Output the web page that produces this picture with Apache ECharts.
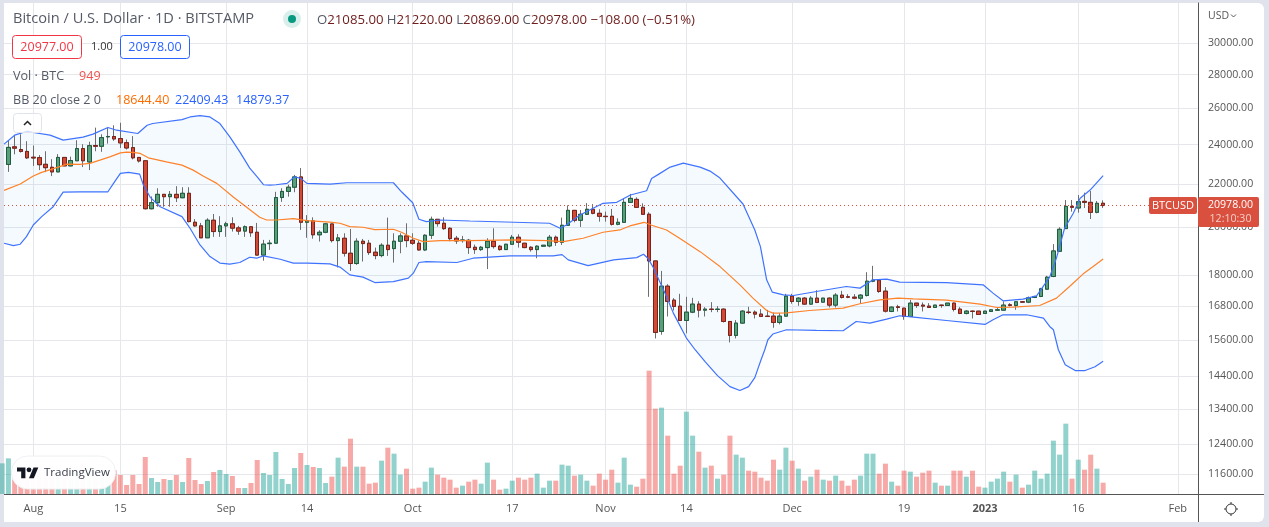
<!DOCTYPE html>
<html><head><meta charset="utf-8">
<style>html,body{margin:0;padding:0;background:#e0e3eb;overflow:hidden}#c{position:absolute;left:4px;top:3px;width:1260px;height:519px;background:#fff;border-radius:0 6px 6px 0}#m{position:absolute;left:0;top:0;width:1269px;height:527px}</style>
<script src="https://cdn.jsdelivr.net/npm/echarts@6/dist/echarts.min.js"></script>
</head><body><div id="c"></div><div id="m"></div>
<script>
// candle values, one per day, first candle is day -5 counted from 1 Aug 2022
const firstDay = -5;
const opens = [21220,22925,23830,23690,23590,23290,23270,22930,22780,22550,23280,22850,23110,23740,23050,23900,23860,24360,24380,24270,24050,23790,23280,23110,20790,21070,21460,21350,21460,21300,21510,20180,20020,19500,20270,19770,20020,20110,19930,19790,19980,19740,18770,19250,19270,21310,21600,21800,22300,20180,20240,19630,19740,20104,19380,19480,18847,18425,19352,19267,18890,18750,19183,19042,19352,19581,19394,19267,18985,19610,20311,20134,19913,19480,19380,19394,19098,19000,19084,19352,19141,19000,19225,19523,19267,19098,19000,19141,19155,19523,19309,20046,20717,20266,20537,20765,20582,20447,20447,20090,20178,21085,21225,20855,20540,18530,15864,17528,16996,16770,16251,16552,16847,16625,16662,16650,16662,16216,15725,16157,16552,16552,16480,16407,16407,16180,16407,17146,16946,17071,16847,17071,16921,17071,16810,17184,17121,17108,17071,17171,17722,17760,17335,16577,16748,16699,16396,16884,16810,16773,16724,16810,16798,16884,16662,16504,16589,16589,16504,16577,16625,16625,16822,16798,16934,16921,17096,17134,17412,17905,18930,19900,20900,20825,21131,21085,20627,21085];
const highs = [23000,24150,24400,24500,24130,23900,23400,23600,23190,23450,23290,23320,24180,23970,24100,24860,24500,24850,24990,25130,24220,24400,23290,23120,21360,21750,21470,21620,21850,21800,21800,20320,20150,20360,20550,20450,20200,20400,20020,20040,20010,20150,19410,19410,21580,21750,21920,22400,22740,20500,20400,19830,20150,20130,19667,19696,19883,19480,19451,19408,19084,19267,20386,19696,19696,20134,19696,19380,19653,20432,20320,20400,19957,19581,19581,19451,19211,19155,19480,19913,19197,19240,19624,19653,19280,19141,19183,19190,19624,19595,20386,20945,20730,20732,21050,21005,20765,20657,20780,20355,21270,21480,21320,21040,20630,18540,18128,17605,17071,17235,17121,17083,16958,16736,16921,16772,16686,16230,16263,16625,16748,16613,16662,16637,16540,16516,17235,17235,17108,17108,17146,17373,17080,17096,17260,17348,17222,17222,17222,18077,18330,17786,17490,16761,16822,16710,17008,16890,16909,16884,16815,16815,16890,16909,16736,16625,16613,16595,16595,16645,16736,16946,16884,16946,16959,17134,17159,17464,17931,19230,19958,21193,21193,21428,21540,21617,21147,21220];
const lows = [21040,22550,23440,23530,23200,22850,22640,22540,22340,22540,22840,22830,23100,22790,22640,23600,23570,24000,24150,23770,23690,23180,23020,20760,20760,20880,20880,20880,21100,21290,20170,19980,19490,19490,19540,19540,19540,19770,19630,19540,19540,18750,18540,18985,19260,21110,21350,21560,19840,19500,19460,19340,19700,19300,18265,18710,18130,18370,18505,18778,18600,18682,18737,18465,18847,19098,19197,18957,18944,19451,19987,19840,19352,19239,19295,18820,18820,18944,18200,19042,18957,18985,19197,19084,19056,18916,18640,19130,19098,19155,19197,20016,20178,19972,20507,20537,20208,20208,20031,20046,20170,21080,20840,20507,17120,15620,15749,16395,16613,16240,15795,16516,16360,16395,16552,16552,16180,15483,15621,16145,16480,16323,16383,16380,15992,16110,16395,16860,16785,16822,16822,16884,16909,16724,16724,17058,17071,17033,16860,17134,17683,17272,16540,16553,16577,16275,16390,16711,16577,16715,16711,16711,16790,16577,16480,16468,16323,16460,16495,16565,16613,16613,16761,16637,16909,16884,17090,17109,17386,17878,18920,19890,20657,20612,20825,20325,20582,20869];
const closes = [22940,23800,23760,23590,23260,23250,22910,22760,22550,23280,22850,23120,23740,23110,23890,23860,24320,24380,24250,24040,23770,23260,23100,20790,21070,21460,21350,21460,21300,21510,20210,20020,19500,20270,19770,20020,20110,19920,19790,19980,19720,18770,19230,19270,21310,21600,21800,22300,20180,20240,19630,19740,20110,19380,19494,18847,18425,19352,19253,18875,18750,19183,19000,19352,19581,19380,19267,18985,19610,20311,20120,19898,19465,19366,19408,19084,19000,19098,19352,19126,19000,19225,19523,19309,19084,19000,19141,19183,19523,19309,20046,20717,20266,20537,20765,20582,20447,20432,20090,20178,21085,21270,20855,20537,18530,15829,17528,16946,16760,16251,16552,16847,16625,16662,16650,16662,16216,15725,16157,16589,16540,16480,16395,16395,16180,16407,17146,16946,17071,16847,17071,16909,17071,16810,17184,17096,17108,17071,17184,17722,17760,17323,16589,16736,16724,16396,16884,16798,16773,16724,16810,16798,16884,16650,16504,16589,16577,16468,16589,16637,16637,16810,16798,16934,16921,17084,17134,17425,17878,18943,19870,20900,20855,21116,21085,20627,21040,20978];
const volumes = [2576,2996,2100,1900,2300,1800,2400,2200,1600,1900,2000,1400,2300,2600,2400,1800,1700,1500,2000,1596,756,1596,840,3108,1344,1008,1260,1176,1596,1008,3024,1176,840,1092,1848,2016,1680,1512,504,504,924,2856,1764,1596,3528,1260,840,2184,3444,2436,2268,2184,924,1456,3052,2296,4648,2296,2296,868,952,2800,3892,3388,1624,2128,448,532,1036,2212,1624,1372,1204,532,700,1036,1204,868,2632,1204,364,448,1120,1372,1204,1372,1708,532,1120,1120,2464,2380,1540,1624,1120,700,1708,1204,2044,952,3052,784,616,1288,10360,7168,7252,4900,1708,2380,6916,4900,3556,2212,2380,1288,1624,4900,3304,3052,1960,1876,1372,1120,2884,2044,3892,2800,2128,1120,1456,2044,1204,1120,1540,1120,700,1204,1540,3388,3388,1708,2548,1036,700,1960,1876,1456,1792,1960,952,700,700,1960,1960,1456,1960,616,532,1036,1288,1876,1036,1624,532,784,1960,1288,1708,4480,3304,5908,1288,2884,2044,3304,2128,949];

// Bollinger readings: day offset and price along each line
const upperDays = [-4.7,-3,-1,0,2.7,4.8,8,9.6,12,13.4,16.8,18.3,19.2,23.9,25.2,26.8,28.4,30,31.6,33.2,34.8,36,37,38,39,40.8,42,43,44,47.7,50.4,57.9,59.2,61,62,63.2,65.4,70.2,83,84.7,85.7,87.9,90,91.6,93.8,96,98.6,99.4,100.5,102.4,104.5,107.2,108.8,110.4,114.1,116,116.9,117.9,118.8,120.6,122.2,125.9,130.7,132.9,135,137.2,139.3,146.8,152.7,154.3,155.9,159.1,161.3,163.4,164.5,165.8,167.2,168.3,169.9,172];
const upperPrices = [23972,24451,24666,24596,24451,24183,24344,24505,24866,24720,24543,24994,25087,25307,25453,25531,25453,25087,24360,23568,22739,22308,21920,21905,21920,21987,22308,22230,21987,21953,22016,22016,21582,21068,20313,20210,20281,20237,20135,19915,20060,20506,20810,21041,21087,21428,21631,22228,22426,22789,22990,22789,22589,22244,21009,19840,19125,17773,17299,17197,17170,17322,17514,17452,17773,17800,17684,17669,17580,17261,16971,17034,17159,17880,18655,19915,20585,21273,21664,22409.43];
const middleDays = [-4.7,-2.1,0,1.35,4,5.4,7.5,9.1,10.7,12.3,14,15,16,17.2,18.5,21.4,23.9,25.7,27.3,29.5,32.2,34.3,36.4,37.5,39.1,41.8,44,47.7,49.3,50.9,53,54.9,57.9,59.2,61.1,62.7,65.4,70.2,77.2,82.5,85.2,88.4,91.6,94.3,95.9,98.2,99.3,101.8,103.9,107.2,110.4,113.6,115.7,117.9,118.9,121.1,124.8,130.2,132.9,136.1,139,141.5,146.8,152.2,154.9,157.5,161.8,164.5,166.6,168.8,170.4,172];
const middlePrices = [21650,21953,22343,22525,22789,22940,22925,22975,23141,23311,23517,23553,23538,23486,23259,23055,22890,22638,22343,21987,21320,20856,20403,20281,20281,20340,20250,20184,20135,19985,19959,19853,19870,19741,19481,19336,19378,19378,19408,19378,19336,19481,19741,19840,20016,20178,20060,19840,19481,18914,18301,17580,17072,16612,16517,16528,16612,16700,16860,17008,17072,17046,16997,16849,16722,16737,16796,17072,17514,18010,18301,18644.40];
const lowerDays = [-4.7,-3.2,-2.1,-1.1,0,1.35,3.2,4.8,7.5,12,12.9,14,15.3,17.1,17.7,18.8,20.4,23.9,25.2,26.8,28.4,30,31.6,33.2,34.8,35.9,37,39.7,41.8,44,47.7,49.3,50.9,53,54.9,57.9,60.3,61.1,62,63.2,68.1,70.7,76.6,83.6,85,86,89.2,93.3,97,98.1,98.8,99.6,101.8,102.9,105,106.4,108,110,112,113.6,115,116,117,117.6,118.1,118.9,121.1,125.9,130.2,132.3,134.5,137.2,139.3,141.5,146.8,153,154.3,155.9,159.7,162.4,163.4,164,164.8,165.9,167.5,169.1,170.7,172];
const lowerPrices = [19268,19167,19226,19550,20060,20430,20884,21570,21582,21582,21987,22474,22525,22441,21905,21320,20884,20430,19915,19196,18710,18443,18403,18467,18682,18642,18737,18600,18443,18443,18410,18280,17970,17880,17668,17707,17840,18037,18467,18505,18467,18642,18737,18737,18790,18572,18340,18572,18667,18807,18642,18301,17133,16516,15633,15236,14840,14390,14046,13924,14046,14326,14905,15236,15575,15772,15921,15897,15886,16214,16156,16300,16420,16372,16250,16110,16275,16456,16456,16336,16038,15921,15236,14742,14552,14552,14675,14879.37];

// axis ticks
const timeTickDays = [0,14,31,44,61,77,92,105,122,140,153,168,184];
const timeTickLabels = ['Aug','15','Sep','14','Oct','17','Nov','14','Dec','19','2023','16','Feb'];
const priceTicks = [11600,12400,13400,14400,15600,16800,18000,20000,22000,24000,26000,28000,30000];
const lastPrice = 20978;

// the readings above came from a scale about 1px off; the last entry of each list is the exact figure from the legend
const calibrate = a => a.map((v, i) => i === a.length - 1 ? v : Math.round(v * 1.002));
const O = calibrate(opens), H = calibrate(highs), L = calibrate(lows), C = calibrate(closes);
const UP = calibrate(upperPrices), MI = calibrate(middlePrices), LO = calibrate(lowerPrices);

const FONT = '"Open Sans", sans-serif';
const GREEN='#5a9e7b', GREEN_D='#1d5c3d', RED='#d14a36', RED_D='#7c2118', WICK='#6e6e6e';
const days = closes.map((_, i) => firstDay + i);
const zip = (a, b) => a.map((v, i) => [v, b[i]]);

function txt(x, y, text, size, fill, extra) {
  return {type:'text', x, y, z:100, silent:true, style:Object.assign({text, fill, fontSize:size, fontFamily:FONT, textVerticalAlign:'middle'}, extra||{})};
}
const gfx = [
  txt(13,19,'Bitcoin / U.S. Dollar · 1D · BITSTAMP',14.6,'#555a66'),
  {type:'circle',z:100,silent:true,shape:{cx:292,cy:19,r:9},style:{fill:'#d9efeb'}},
  {type:'circle',z:101,silent:true,shape:{cx:292,cy:19,r:4},style:{fill:'#089981'}},
  {type:'text',x:317,y:20,z:100,silent:true,style:{
    text:'{l|O}{v|21085.00} {l|H}{v|21220.00} {l|L}{v|20869.00} {l|C}{v|20978.00} {v|−108.00 (−0.51%)}',
    textVerticalAlign:'middle',
    rich:{l:{fill:'#555a66',fontSize:13.2,fontFamily:FONT},v:{fill:'#6e1c1c',fontSize:13.2,fontFamily:FONT}}}},
  {type:'rect',z:100,silent:true,shape:{x:12.5,y:35.5,width:69,height:23,r:3},style:{fill:'#fff',stroke:'#f23645',lineWidth:1}},
  txt(47,47,'20977.00',12.5,'#f23645',{textAlign:'center'}),
  txt(91,47,'1.00',11,'#333'),
  {type:'rect',z:100,silent:true,shape:{x:120.5,y:35.5,width:69,height:23,r:3},style:{fill:'#fff',stroke:'#2962ff',lineWidth:1}},
  txt(155,47,'20978.00',12.5,'#2962ff',{textAlign:'center'}),
  txt(13,76,'Vol · BTC',12.6,'#555a66'),
  txt(79,76,'949',12.6,'#ef5350'),
  txt(13,100,'BB 20 close 2 0',12.6,'#555a66'),
  txt(116,100,'18644.40',12.5,'#ff6d00'),
  txt(175,100,'22409.43',12.5,'#2962ff'),
  txt(236,100,'14879.37',12.5,'#2962ff'),
  {type:'rect',z:100,silent:true,shape:{x:13.5,y:113.5,width:28,height:19,r:3},style:{fill:'rgba(255,255,255,0.75)',stroke:'#e0e3eb',lineWidth:1}},
  {type:'polyline',z:101,silent:true,shape:{points:[[24,125],[27.5,121.5],[31,125]]},style:{stroke:'#222',lineWidth:1.5,fill:'none'}},
  // TradingView badge
  {type:'rect',z:100,silent:true,shape:{x:11.5,y:456,width:104,height:33,r:16},style:{fill:'rgba(255,255,255,0.98)',stroke:'#eef0f3',lineWidth:1}},
  {type:'polygon',z:101,silent:true,shape:{points:[[17,467.4],[25.4,467.4],[25.4,478.2],[21.2,478.2],[21.2,471.6],[17,471.6]]},style:{fill:'#131722'}},
  {type:'polygon',z:101,silent:true,shape:{points:[[33.5,467.4],[38.3,467.4],[33.8,478.2],[29,478.2]]},style:{fill:'#131722'}},
  {type:'circle',z:101,silent:true,shape:{cx:29,cy:469.8,r:2.4},style:{fill:'#131722'}},
  txt(44,472.5,'TradingView',11.5,'#3a3f4b'),
  // right side
  txt(1208,16,'USD',10.5,'#555'),
  {type:'polyline',z:101,silent:true,shape:{points:[[1231,14.5],[1233.5,17],[1236,14.5]]},style:{stroke:'#555',lineWidth:1,fill:'none'}},
  {type:'line',z:100,silent:true,shape:{x1:4,y1:494.5,x2:1264,y2:494.5},style:{stroke:'#555',lineWidth:1}},
  {type:'line',z:100,silent:true,shape:{x1:1198.5,y1:494,x2:1198.5,y2:522},style:{stroke:'#555',lineWidth:1}},
  {type:'rect',z:100,silent:true,shape:{x:1149,y:197,width:48,height:17,r:2},style:{fill:'#d9503f'}},
  txt(1173,205.5,'BTCUSD',11,'#fff',{textAlign:'center'}),
  {type:'rect',z:100,silent:true,shape:{x:1198,y:197,width:61,height:30,r:2},style:{fill:'#d9503f'}},
  txt(1230.5,205,'20978.00',10.6,'#fff',{textAlign:'center'}),
  txt(1230.5,219,'12:10:30',10.6,'rgba(255,255,255,0.72)',{textAlign:'center'}),
  // settings gear
  {type:'circle',z:100,silent:true,shape:{cx:1231,cy:509,r:5},style:{fill:'none',stroke:'#333',lineWidth:1}},
  {type:'line',z:100,silent:true,shape:{x1:1231,y1:502,x2:1231,y2:504},style:{stroke:'#333'}},
  {type:'line',z:100,silent:true,shape:{x1:1231,y1:514,x2:1231,y2:516},style:{stroke:'#333'}},
  {type:'line',z:100,silent:true,shape:{x1:1224,y1:509,x2:1226,y2:509},style:{stroke:'#333'}},
  {type:'line',z:100,silent:true,shape:{x1:1236,y1:509,x2:1238,y2:509},style:{stroke:'#333'}}
];

const chart = echarts.init(document.getElementById('m'), null, {renderer:'canvas', width:1269, height:527});
chart.setOption({
  animation:false,
  backgroundColor:'transparent',
  grid:{left:4,right:71,top:3,bottom:33,containLabel:false},
  xAxis:{type:'value',min:-4.71,max:187.25,
    axisLine:{show:false,onZero:false},
    axisTick:{show:false,customValues:timeTickDays},
    splitLine:{show:true,lineStyle:{color:'#e6e7ea',width:1}},
    axisLabel:{customValues:timeTickDays,margin:9,color:'#555',fontSize:11,fontFamily:FONT,
      formatter:v=>{const s=timeTickLabels[timeTickDays.indexOf(v)];return s==='2023'?'{b|2023}':s;},
      rich:{b:{fontWeight:'bold',color:'#555',fontSize:11,fontFamily:FONT}}}},
  yAxis:[
    {type:'log',logBase:10,min:11107,max:32788,position:'right',
      axisLine:{show:true,onZero:false,lineStyle:{color:'#555',width:1}},
      axisTick:{show:false,customValues:priceTicks},
      splitLine:{show:true,lineStyle:{color:'#e6e7ea',width:1}},
      axisLabel:{customValues:priceTicks,margin:10,color:'#555',fontSize:10.6,fontFamily:FONT,formatter:v=>Number(v).toFixed(2)}},
    {type:'value',min:0,max:41244,show:false,position:'left',splitLine:{show:false}}
  ],
  graphic:{elements:gfx},
  series:[
    {name:'Vol',type:'bar',yAxisIndex:1,barWidth:5,silent:true,
      data:volumes.map((v,i)=>({value:[days[i],v],itemStyle:{color:closes[i]>=opens[i]?'rgba(38,166,154,0.5)':'rgba(239,83,80,0.5)'}}))},
    {name:'BB band',type:'custom',silent:true,clip:true,
      data:[[172,lastPrice]],
      encode:{x:0,y:1},
      renderItem:(params,api)=>{
        const pts=zip(upperDays,UP).map(p=>api.coord(p)).concat(zip(lowerDays,LO).reverse().map(p=>api.coord(p)));
        return {type:'polygon',shape:{points:pts},style:{fill:'rgba(33,150,243,0.05)'}};
      }},
    {name:'BB upper',type:'line',showSymbol:false,silent:true,lineStyle:{color:'#3f73ff',width:1.2},data:zip(upperDays,UP)},
    {name:'BB lower',type:'line',showSymbol:false,silent:true,lineStyle:{color:'#3f73ff',width:1.2},data:zip(lowerDays,LO)},
    {name:'BB basis',type:'line',showSymbol:false,silent:true,lineStyle:{color:'#ff8228',width:1.2},data:zip(middleDays,MI)},
    {name:'Wicks',type:'candlestick',barWidth:4,silent:true,encode:{x:0,y:[1,2,3,4]},
      itemStyle:{color:GREEN,color0:RED,borderColor:WICK,borderColor0:WICK,borderWidth:1},
      data:days.map((d,i)=>[d,O[i],C[i],L[i],H[i]])},
    {name:'BTCUSD',type:'candlestick',barWidth:4,silent:true,encode:{x:0,y:[1,2,3,4]},
      itemStyle:{color:GREEN,color0:RED,borderColor:GREEN_D,borderColor0:RED_D,borderWidth:1},
      data:days.map((d,i)=>[d,O[i],C[i],Math.min(O[i],C[i]),Math.max(O[i],C[i])]),
      markLine:{silent:true,symbol:'none',animation:false,label:{show:false},
        lineStyle:{color:'#d9503f',type:[1,3],width:1},data:[{yAxis:lastPrice}]}}
  ]
});
</script></body></html>
